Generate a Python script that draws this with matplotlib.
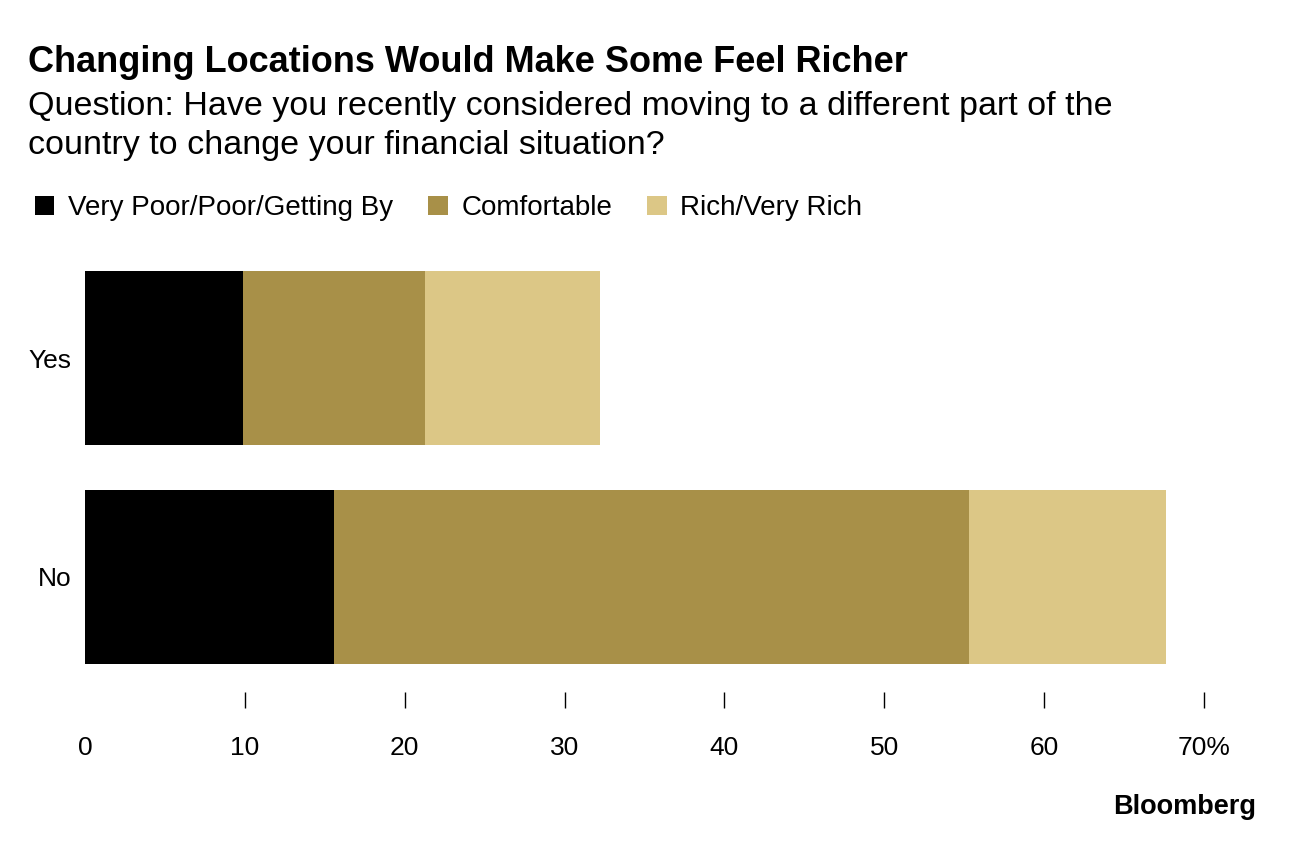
import matplotlib.pyplot as plt
from matplotlib.patches import Patch

# data
answers = ["No", "Yes"]
poor = [15.6, 9.9]
comfortable = [39.7, 11.4]
rich = [12.3, 10.9]
series_names = ["Very Poor/Poor/Getting By", "Comfortable", "Rich/Very Rich"]
colors = ["#000000", "#A89048", "#DCC786"]
xticks = [10, 20, 30, 40, 50, 60, 70]

plt.rcParams["font.family"] = ["Liberation Sans", "DejaVu Sans"]

W, H = 1296, 852
fig = plt.figure(figsize=(W / 100, H / 100), dpi=100)

# axes: x from px 85 to 1204 (0..70), y from px 250 to 708
left, right, top, bottom = 85, 1204, 250, 708
ax = fig.add_axes([left / W, 1 - bottom / H, (right - left) / W, (bottom - top) / H])

y = list(range(len(answers)))
starts = [0] * len(answers)
for vals, name, color in zip([poor, comfortable, rich], series_names, colors):
    ax.barh(y, vals, height=0.795, left=starts, color=color, label=name)
    starts = [s + v for s, v in zip(starts, vals)]

unit = 219  # px per category
ax.set_xlim(0, 70)
ax.set_ylim(0 - (bottom - 577) / unit, 1 + (358 - top) / unit)

ax.set_yticks(y)
ax.set_yticklabels(answers, fontsize=19)
ax.tick_params(axis="y", length=0, pad=10)

ax.set_xticks([0] + xticks)
ax.set_xticklabels(["0"] + [str(t) for t in xticks[:-1]] + ["70%"], fontsize=19)
ax.tick_params(axis="x", direction="in", length=11.5, width=1, color="#000000", pad=20)
ax.xaxis.get_major_ticks()[0].tick1line.set_visible(False)

for s in ax.spines.values():
    s.set_visible(False)

fig.text(28 / W, 1 - 63 / H, "Changing Locations Would Make Some Feel Richer",
         fontsize=26, fontweight="bold", va="center", ha="left")
fig.text(28 / W, 1 - 126 / H,
         "Question: Have you recently considered moving to a different part of the\n"
         "country to change your financial situation?",
         fontsize=24.5, va="center", ha="left", linespacing=1.37)

handles = [Patch(facecolor=c, label=n) for c, n in zip(colors, series_names)]
fig.legend(handles=handles, loc="center left", bbox_to_anchor=(10 / W, 1 - 208 / H),
           ncol=3, frameon=False, fontsize=20, handlelength=0.7, handleheight=0.7,
           handletextpad=0.5, columnspacing=1.25)

fig.text(1256 / W, 1 - 807 / H, "Bloomberg", fontsize=19.5, fontweight="bold",
         ha="right", va="center")

fig.savefig("out.png", dpi=100)
